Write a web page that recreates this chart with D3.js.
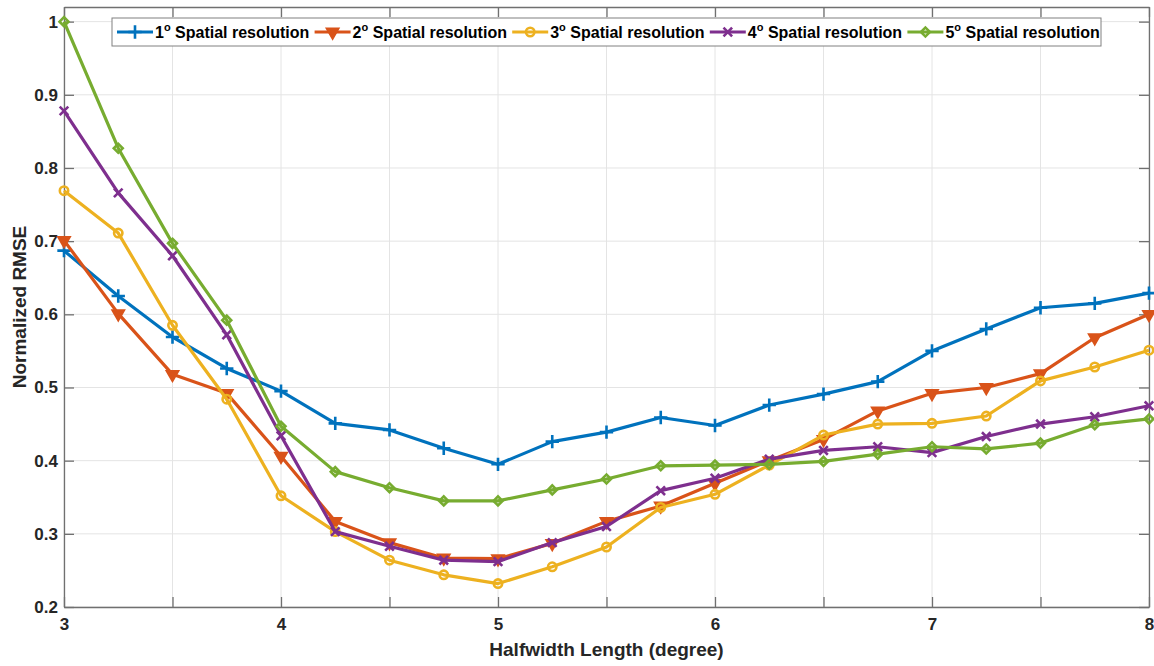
<!DOCTYPE html>
<html>
<head>
<meta charset="utf-8">
<script src="https://cdn.jsdelivr.net/npm/d3@7"></script>
<style>
  body { margin: 0; background: #fff; }
  svg { display: block; font-family: "Liberation Sans", Arial, sans-serif; }
</style>
</head>
<body>
<div id="vis"></div>
<script>
// halfwidth lengths (degree)
var halfwidth = [3, 3.25, 3.5, 3.75, 4, 4.25, 4.5, 4.75, 5, 5.25, 5.5, 5.75, 6, 6.25, 6.5, 6.75, 7, 7.25, 7.5, 7.75, 8];

// normalized RMSE per spatial resolution
var res1 = [0.687, 0.625, 0.569, 0.526, 0.495, 0.451, 0.442, 0.417, 0.395, 0.426, 0.439, 0.459, 0.448, 0.476, 0.491, 0.508, 0.550, 0.580, 0.609, 0.615, 0.629];
var res2 = [0.701, 0.601, 0.518, 0.492, 0.406, 0.317, 0.288, 0.267, 0.266, 0.287, 0.317, 0.338, 0.369, 0.400, 0.429, 0.468, 0.492, 0.500, 0.519, 0.568, 0.600];
var res3 = [0.769, 0.711, 0.585, 0.484, 0.352, 0.303, 0.264, 0.244, 0.232, 0.255, 0.282, 0.336, 0.354, 0.394, 0.435, 0.450, 0.451, 0.461, 0.509, 0.528, 0.551];
var res4 = [0.878, 0.766, 0.680, 0.572, 0.434, 0.303, 0.283, 0.264, 0.262, 0.288, 0.310, 0.359, 0.376, 0.402, 0.414, 0.419, 0.411, 0.433, 0.450, 0.460, 0.475];
var res5 = [1.000, 0.827, 0.697, 0.592, 0.447, 0.385, 0.363, 0.345, 0.345, 0.360, 0.375, 0.393, 0.394, 0.395, 0.399, 0.409, 0.419, 0.416, 0.424, 0.449, 0.457];

var seriesNames = ["1", "2", "3", "4", "5"];
var xTicks = [3, 3.5, 4, 4.5, 5, 5.5, 6, 6.5, 7, 7.5, 8];
var yTicks = [0.2, 0.3, 0.4, 0.5, 0.6, 0.7, 0.8, 0.9, 1];

var colors = ["#0072BD", "#D95319", "#EDB120", "#7E2F8E", "#77AC30"];
var series = [res1, res2, res3, res4, res5].map(function(vals, i) {
  return {name: seriesNames[i], color: colors[i], marker: i,
          values: vals.map(function(v, j) { return {x: halfwidth[j], y: v}; })};
});

var W = 1154, H = 666;
var margin = {top: 7, right: 5, bottom: 59, left: 64};
var width = W - margin.left - margin.right,
    height = H - margin.top - margin.bottom;

var svg = d3.select("#vis").append("svg")
    .attr("width", W)
    .attr("height", H);
var g = svg.append("g")
    .attr("transform", "translate(" + margin.left + "," + margin.top + ")");

var x = d3.scaleLinear().domain([3, 8]).range([0, width]);
var y = d3.scaleLinear().domain([0.2, 1.02]).range([height, 0]);

// grid
g.append("g").selectAll("line").data(xTicks).enter().append("line")
    .attr("x1", function(d) { return x(d); }).attr("x2", function(d) { return x(d); })
    .attr("y1", 0).attr("y2", height)
    .style("stroke", "#e4e4e4").style("stroke-width", 1);
g.append("g").selectAll("line").data(yTicks).enter().append("line")
    .attr("x1", 0).attr("x2", width)
    .attr("y1", function(d) { return y(d); }).attr("y2", function(d) { return y(d); })
    .style("stroke", "#e4e4e4").style("stroke-width", 1);

function styleAxis(sel) {
  sel.selectAll(".domain").style("stroke", "#707070").style("stroke-width", 1.3);
  sel.selectAll(".tick line").style("stroke", "#707070").style("stroke-width", 1.3);
  sel.selectAll("text").style("font-size", "17px").style("font-weight", "bold").style("fill", "#262626");
}

var fmtX = function(d) { return d % 1 === 0 ? d : ""; };
var fmtY = function(d) { return d === 1 ? "1" : d3.format(".1f")(d); };

g.append("g").attr("transform", "translate(0," + height + ")")
    .call(d3.axisBottom(x).tickValues(xTicks).tickFormat(fmtX).tickSizeInner(-10).tickSizeOuter(0).tickPadding(11))
    .call(styleAxis);
g.append("g")
    .call(d3.axisTop(x).tickValues(xTicks).tickFormat("").tickSizeInner(-10).tickSizeOuter(0))
    .call(styleAxis);
g.append("g")
    .call(d3.axisLeft(y).tickValues(yTicks).tickFormat(fmtY).tickSizeInner(-10).tickSizeOuter(0).tickPadding(6))
    .call(styleAxis);
g.append("g").attr("transform", "translate(" + width + ",0)")
    .call(d3.axisRight(y).tickValues(yTicks).tickFormat("").tickSizeInner(-10).tickSizeOuter(0))
    .call(styleAxis);

// axis labels
svg.append("text")
    .attr("x", margin.left + width / 2).attr("y", 656)
    .attr("text-anchor", "middle")
    .style("font-size", "19px").style("font-weight", "bold").style("fill", "#262626")
    .text("Halfwidth Length (degree)");
svg.append("text")
    .attr("transform", "translate(26," + (margin.top + height / 2) + ") rotate(-90)")
    .attr("text-anchor", "middle")
    .style("font-size", "19px").style("font-weight", "bold").style("fill", "#262626")
    .text("Normalized RMSE");

// markers (matlab style: +, v, o, x, d)
var plusType = d3.symbolPlus || d3.symbolCross;
var timesType = d3.symbolTimes || d3.symbolX || d3.symbolCross;
function markerPath(m) {
  if (m === 0) return d3.symbol().type(plusType).size(60)();
  if (m === 1) return d3.symbol().type(d3.symbolTriangle).size(50)();
  if (m === 2) return d3.symbol().type(d3.symbolCircle).size(55)();
  if (m === 3) return d3.symbol().type(timesType).size(50)();
  return d3.symbol().type(d3.symbolSquare).size(40)();
}
function markerRot(m) {
  if (m === 1) return " rotate(180)";
  if (m === 4) return " rotate(45)";
  return "";
}
function drawMarker(sel, s) {
  sel.attr("d", markerPath(s.marker))
    .style("stroke", s.color)
    .style("stroke-width", 2.6)
    .style("fill", s.marker === 1 ? s.color : "none");
}

var line = d3.line().x(function(d) { return x(d.x); }).y(function(d) { return y(d.y); });

var sg = g.selectAll(".series").data(series).enter().append("g").attr("class", "series");
sg.append("path")
    .attr("d", function(d) { return line(d.values); })
    .style("fill", "none")
    .style("stroke", function(d) { return d.color; })
    .style("stroke-width", 3.2)
    .style("stroke-linejoin", "round");
sg.each(function(s) {
  d3.select(this).selectAll(".mk").data(s.values).enter().append("path")
    .attr("class", "mk")
    .attr("transform", function(d) {
      return "translate(" + x(d.x) + "," + y(d.y) + ")" + markerRot(s.marker);
    })
    .call(drawMarker, s);
});

// legend
var legend = svg.append("g").attr("transform", "translate(112,18)");
legend.append("rect")
    .attr("width", 989).attr("height", 28)
    .style("fill", "#fff").style("stroke", "#808080").style("stroke-width", 1);
var step = 197.6;
var li = legend.selectAll(".li").data(series).enter().append("g")
    .attr("class", "li")
    .attr("transform", function(d, i) { return "translate(" + (5 + i * step) + ",14)"; });
li.append("line")
    .attr("x1", 0).attr("x2", 36)
    .style("stroke", function(d) { return d.color; }).style("stroke-width", 3.2);
li.append("path")
    .attr("transform", function(d) { return "translate(18,0)" + markerRot(d.marker); })
    .each(function(d) { d3.select(this).call(drawMarker, d); });
var lt = li.append("text")
    .attr("x", 38).attr("y", 6)
    .style("font-size", "16px").style("font-weight", "bold").style("fill", "#000");
lt.append("tspan").text(function(d) { return d.name; });
lt.append("tspan").attr("dy", -7).style("font-size", "11px").text("o");
lt.append("tspan").attr("dy", 7).text(" Spatial resolution");
</script>
</body>
</html>
